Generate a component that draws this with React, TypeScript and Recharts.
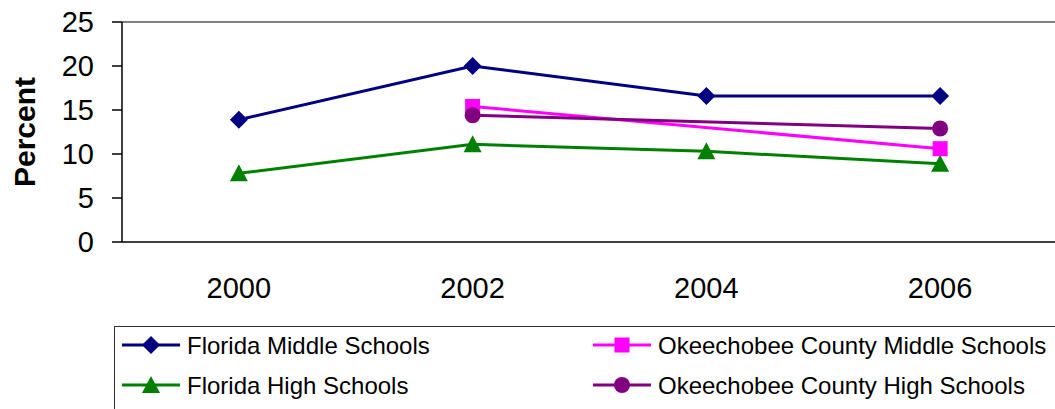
import { LineChart, Line, XAxis, YAxis, ReferenceLine, Legend } from "recharts";

const years = ["2000", "2002", "2004", "2006"];
const floridaMiddle = [13.9, 20.0, 16.6, 16.6];
const floridaHigh = [7.8, 11.1, 10.3, 8.9];
const okeeMiddle: (number | null)[] = [null, 15.4, null, 10.6];
const okeeHigh: (number | null)[] = [null, 14.4, null, 12.9];
const yTicks = [0, 5, 10, 15, 20, 25];

const FONT = '"Liberation Sans", Arial, sans-serif';

type Shape = "diamond" | "triangle" | "square" | "circle";

const series: { key: string; name: string; color: string; shape: Shape }[] = [
  { key: "fm", name: "Florida Middle Schools", color: "#000080", shape: "diamond" },
  { key: "fh", name: "Florida High Schools", color: "#008000", shape: "triangle" },
  { key: "om", name: "Okeechobee County Middle Schools", color: "#FF00FF", shape: "square" },
  { key: "oh", name: "Okeechobee County High Schools", color: "#800080", shape: "circle" },
];

const data = years.map((year, i) => ({
  idx: i,
  year,
  fm: floridaMiddle[i],
  fh: floridaHigh[i],
  om: okeeMiddle[i],
  oh: okeeHigh[i],
}));

function Marker({ shape, cx, cy, color }: { shape: Shape; cx: number; cy: number; color: string }) {
  if (shape === "diamond") {
    return (
      <polygon
        points={`${cx},${cy - 9} ${cx + 9},${cy} ${cx},${cy + 9} ${cx - 9},${cy}`}
        fill={color}
      />
    );
  }
  if (shape === "triangle") {
    return (
      <polygon
        points={`${cx},${cy - 9} ${cx + 9},${cy + 8} ${cx - 9},${cy + 8}`}
        fill={color}
      />
    );
  }
  if (shape === "square") {
    return <rect x={cx - 7.5} y={cy - 7.5} width={15} height={15} fill={color} />;
  }
  return <circle cx={cx} cy={cy} r={8} fill={color} />;
}

function LegendBox() {
  return (
    <svg width={960} height={90} style={{ display: "block" }}>
      <rect x={0.5} y={0.5} width={1000} height={200} fill="none" stroke="#333" strokeWidth={1} />
      {series.map((s, i) => {
        const col = Math.floor(i / 2);
        const row = i % 2;
        const x0 = col === 0 ? 8 : 479;
        const y0 = row === 0 ? 19 : 59;
        return (
          <g key={s.key}>
            <line x1={x0} y1={y0} x2={x0 + 58} y2={y0} stroke={s.color} strokeWidth={3} />
            <Marker shape={s.shape} cx={x0 + 29} cy={y0} color={s.color} />
            <text x={x0 + 65} y={y0} dy="0.36em" fontSize={24} fill="#000" fontFamily={FONT}>
              {s.name}
            </text>
          </g>
        );
      })}
    </svg>
  );
}

function PercentLabel(props: any) {
  const vb = props.viewBox || { y: 22, height: 220 };
  const cy = vb.y + vb.height / 2;
  return (
    <text
      transform={`translate(24,${cy}) rotate(-90)`}
      textAnchor="middle"
      dominantBaseline="central"
      fontSize={30}
      fontWeight="bold"
      fill="#000"
      fontFamily={FONT}
    >
      Percent
    </text>
  );
}

export default function App() {
  return (
    <div
      style={{
        position: "absolute",
        left: 0,
        top: 0,
        width: 1055,
        height: 409,
        overflow: "hidden",
        background: "#fff",
        fontFamily: FONT,
      }}
    >
      <LineChart
        width={1070}
        height={409}
        data={data}
        margin={{ top: 22, right: 13, left: 0, bottom: 97 }}
      >
        <XAxis
          xAxisId="frame"
          dataKey="idx"
          type="number"
          domain={[-0.5, 3.5]}
          ticks={[-0.5, 0.5, 1.5, 2.5, 3.5]}
          interval={0}
          tick={false}
          tickSize={10}
          height={10}
          axisLine={{ stroke: "#000", strokeWidth: 1.5 }}
          tickLine={{ stroke: "#000", strokeWidth: 1.5 }}
        />
        <XAxis
          xAxisId="years"
          dataKey="idx"
          type="number"
          domain={[-0.5, 3.5]}
          ticks={[0, 1, 2, 3]}
          interval={0}
          tickFormatter={(i: number) => years[i]}
          tickSize={0}
          tickMargin={25}
          height={60}
          axisLine={false}
          tickLine={false}
          tick={{ fill: "#000", fontSize: 29, fontFamily: FONT }}
        />
        <YAxis
          domain={[0, 25]}
          ticks={yTicks}
          interval={0}
          width={122}
          tickSize={10}
          tickMargin={18}
          axisLine={{ stroke: "#000", strokeWidth: 1.5 }}
          tickLine={{ stroke: "#000", strokeWidth: 1.5 }}
          tick={{ fill: "#000", fontSize: 29, fontFamily: FONT }}
          label={{ content: PercentLabel }}
        />
        <ReferenceLine xAxisId="years" y={25} stroke="#808080" strokeWidth={2} />
        {series.map((s) => (
          <Line
            key={s.key}
            xAxisId="years"
            dataKey={s.key}
            name={s.name}
            stroke={s.color}
            strokeWidth={3}
            connectNulls
            isAnimationActive={false}
            dot={(p: any) =>
              p.cx == null || p.cy == null || p.value == null ? (
                <g key={`${s.key}-${p.index}`} />
              ) : (
                <g key={`${s.key}-${p.index}`}>
                  <Marker shape={s.shape} cx={p.cx} cy={p.cy} color={s.color} />
                </g>
              )
            }
            activeDot={false}
          />
        ))}
        <Legend
          layout="horizontal"
          verticalAlign="middle"
          align="center"
          wrapperStyle={{ left: 114, top: 326, width: 960, height: 90 }}
          content={() => <LegendBox />}
        />
      </LineChart>
    </div>
  );
}
